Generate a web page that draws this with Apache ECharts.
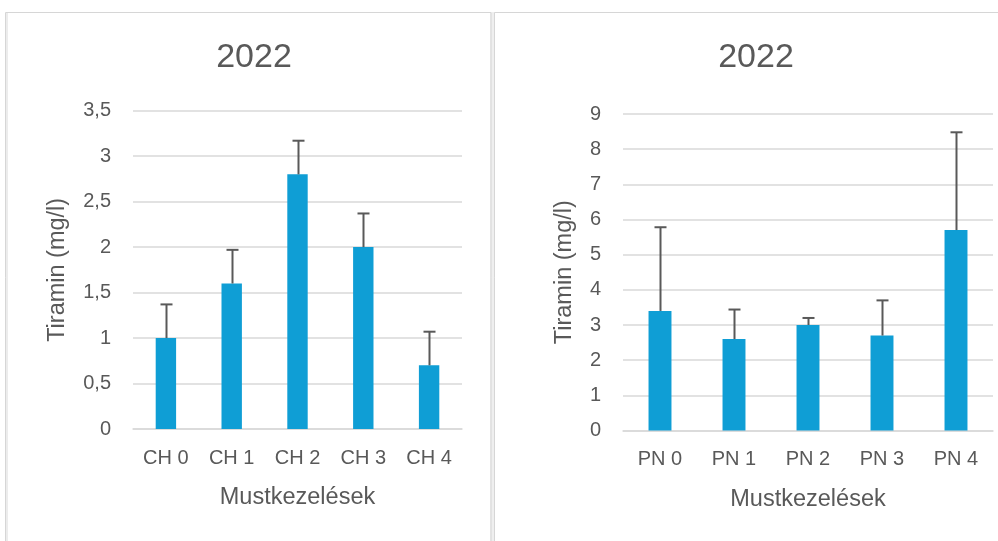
<!DOCTYPE html>
<html>
<head>
<meta charset="utf-8">
<script src="https://cdn.jsdelivr.net/npm/echarts@6/dist/echarts.min.js"></script>
<style>
html,body{margin:0;padding:0;background:#fff;}
#c{width:998px;height:541px;}
</style>
</head>
<body>
<div id="c"></div>
<script>
const titleText = "2022";
const yAxisName = "Tiramin (mg/l)";
const xAxisName = "Mustkezelések";

const catsCH = ["CH 0", "CH 1", "CH 2", "CH 3", "CH 4"];
const valsCH = [1.0, 1.6, 2.8, 2.0, 0.7];
const errTopCH = [1.37, 1.97, 3.17, 2.37, 1.07];
const ticksCH = { min: 0, max: 3.5, interval: 0.5 };

const catsPN = ["PN 0", "PN 1", "PN 2", "PN 3", "PN 4"];
const valsPN = [3.4, 2.6, 3.0, 2.7, 5.7];
const errTopPN = [5.78, 3.44, 3.2, 3.7, 8.48];
const ticksPN = { min: 0, max: 9, interval: 1 };

const FONT = "Liberation Sans";
const TXT = "#595959";
const GRID = "#d9d9d9";
const BAR = "#0F9ED5";

const chart = echarts.init(document.getElementById('c'), null, { renderer: 'canvas' });

function errSeries(idx, vals, tops) {
  return {
    type: 'custom',
    xAxisIndex: idx, yAxisIndex: idx,
    z: 5,
    data: vals.map((v, i) => [i, v, tops[i]]),
    renderItem: function (params, api) {
      const base = api.coord([api.value(0), api.value(1)]);
      const top = api.coord([api.value(0), api.value(2)]);
      const x = Math.round(base[0]) + 0.5;
      const style = { stroke: '#595959', lineWidth: 2, fill: null };
      return {
        type: 'group',
        children: [
          { type: 'line', shape: { x1: x, y1: base[1], x2: x, y2: top[1] }, style: style },
          { type: 'line', shape: { x1: x - 6, y1: top[1], x2: x + 6, y2: top[1] }, style: style }
        ]
      };
    }
  };
}

function xAxis(idx, cats) {
  return {
    type: 'category', gridIndex: idx, data: cats,
    axisTick: { show: false },
    axisLine: { lineStyle: { color: GRID, width: 1.5 } },
    axisLabel: { color: TXT, fontSize: 20, fontFamily: FONT, margin: 19 },
    name: xAxisName, nameLocation: 'middle', nameGap: 57,
    nameTextStyle: { color: TXT, fontSize: 23.5, fontFamily: FONT }
  };
}

function yAxis(idx, t, gap) {
  return {
    type: 'value', gridIndex: idx, min: t.min, max: t.max, interval: t.interval,
    axisLine: { show: false }, axisTick: { show: false },
    splitLine: { lineStyle: { color: GRID, width: 1.5 } },
    axisLabel: {
      color: TXT, fontSize: 20, fontFamily: FONT, margin: 22,
      formatter: v => String(v).replace('.', ',')
    },
    name: yAxisName, nameLocation: 'middle', nameGap: gap,
    nameTextStyle: { color: TXT, fontSize: 23.5, fontFamily: FONT }
  };
}

chart.setOption({
  animation: false,
  backgroundColor: '#ffffff',
  graphic: [
    { type: 'rect', shape: { x: 490, y: 12, width: 5, height: 540 }, style: { fill: '#efefef' }, z: -10 },
    { type: 'rect', shape: { x: 5.5, y: 12.5, width: 485.5, height: 540 }, style: { fill: null, stroke: '#d6d6d6', lineWidth: 1 }, z: -9 },
    { type: 'rect', shape: { x: 6, y: 13, width: 2, height: 540 }, style: { fill: '#ececec' }, z: -9 },
    { type: 'rect', shape: { x: 494.5, y: 12.5, width: 510, height: 540 }, style: { fill: null, stroke: '#d6d6d6', lineWidth: 1 }, z: -9 }
  ],
  title: [
    { text: titleText, left: 249, top: 36, textAlign: 'center',
      textStyle: { color: TXT, fontSize: 34, fontWeight: 'normal', fontFamily: FONT } },
    { text: titleText, left: 751, top: 36, textAlign: 'center',
      textStyle: { color: TXT, fontSize: 34, fontWeight: 'normal', fontFamily: FONT } }
  ],
  grid: [
    { left: 133, right: 536, top: 110.7, bottom: 112, containLabel: false },
    { left: 623, right: 5, top: 114, bottom: 110.5, containLabel: false }
  ],
  xAxis: [xAxis(0, catsCH), xAxis(1, catsPN)],
  yAxis: [yAxis(0, ticksCH, 63), yAxis(1, ticksPN, 46)],
  series: [
    { type: 'bar', xAxisIndex: 0, yAxisIndex: 0, data: valsCH, barWidth: '31%',
      itemStyle: { color: BAR } },
    errSeries(0, valsCH, errTopCH),
    { type: 'bar', xAxisIndex: 1, yAxisIndex: 1, data: valsPN, barWidth: '31%',
      itemStyle: { color: BAR } },
    errSeries(1, valsPN, errTopPN)
  ]
});
</script>
</body>
</html>
